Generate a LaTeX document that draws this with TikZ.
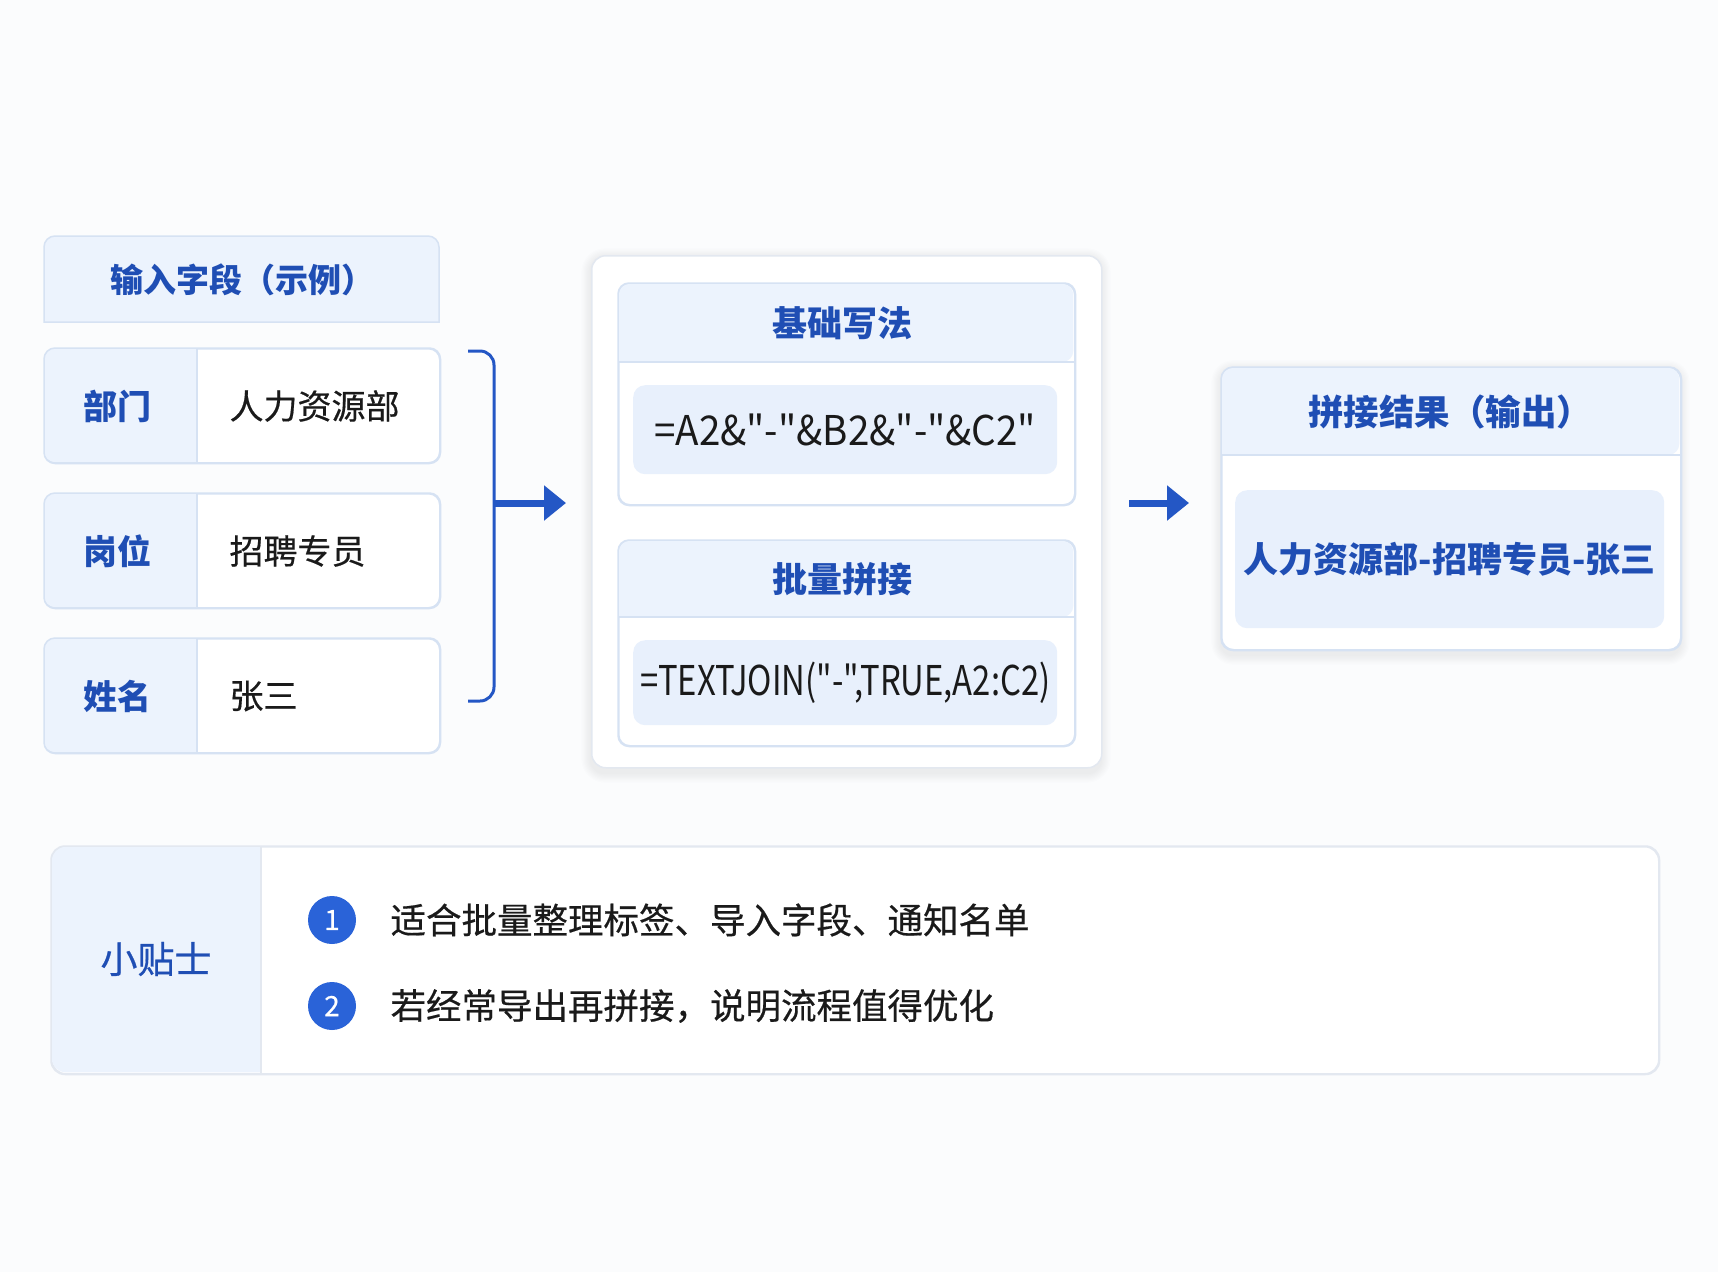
\documentclass[tikz,border=0pt]{standalone}
\usepackage{fontspec}
\setmainfont{Noto Sans CJK SC}
\newfontfamily\medfont[FakeBold=0.5]{Noto Sans CJK SC}
\newfontfamily\codefont[Ligatures=NoCommon]{Noto Sans CJK SC}
\usetikzlibrary{arrows.meta}
\definecolor{bg}{HTML}{FBFCFD}
\definecolor{bord}{HTML}{D6E2F3}
\definecolor{bordg}{HTML}{E3E8F0}
\definecolor{hfill}{HTML}{ECF3FD}
\definecolor{cfill}{HTML}{E8F0FC}
\definecolor{tblue}{HTML}{1F4EB4}
\definecolor{ablue}{HTML}{2457C5}
\definecolor{cblue}{HTML}{2A63D8}
\definecolor{tblack}{HTML}{1A1A1A}
\definecolor{shad}{HTML}{5A6A8A}
\newcommand{\fs}[1]{\fontsize{#1}{#1}\selectfont}
\newcommand{\qt}{\symbol{34}}
\newcommand{\softshadow}[5]{% x1,y1,x2,y2,radius
  \foreach \k in {1,...,8}{
    \fill[shad, opacity=0.012, rounded corners=#5+\k*1.2pt]
      (#1-\k*1.2, #2+3-\k*1.2) rectangle (#3+\k*1.2, #4+6+\k*1.2);
  }}
\tikzset{
  box/.style={draw=bord, line width=1.5pt, fill=white, rounded corners=11pt, anchor=north west, inner sep=0pt},
  outerbox/.style={draw=bordg, line width=1.5pt, fill=white, rounded corners=14pt, anchor=north west, inner sep=0pt},
  codebox/.style={fill=cfill, rounded corners=12pt, anchor=north west, inner sep=0pt},
  htext/.style={text=tblue, font=\bfseries\fs{33}},
  ltext/.style={text=tblue, font=\bfseries\fs{34}},
  vtext/.style={text=tblack, font=\medfont\fs{34}, anchor=west},
  ctext/.style={text=tblack, font=\codefont\fs{41}},
  ttext/.style={text=tblack, font=\medfont\fs{35.5}, anchor=west},
  numc/.style={circle, fill=cblue, minimum size=48pt, inner sep=0pt, text=white, font=\medfont\fs{28}},
  flowarrow/.style={draw=ablue, line width=7pt, -{Triangle[length=22pt,width=34pt]}},
  bracket/.style={draw=ablue, line width=3pt, rounded corners=14pt},
}
\begin{document}
\begin{tikzpicture}[x=1pt,y=-1pt]
\fill[bg] (0,0) rectangle (1718,1272);
\useasboundingbox (0,0) rectangle (1718,1272);

% ---- left column ----
\node[box, draw=none, fill=none, minimum width=395pt, minimum height=86pt] (inhead) at (44,236) {};
\filldraw[fill=hfill, draw=bord, line width=1.5pt] (44,322) [rounded corners=11pt] -- (44,236) -- (439,236) [sharp corners] -- (439,322) -- cycle;
\node[htext] (inheadt) at (inhead.center) {输入字段（示例）};

\foreach \nm/\y/\lab/\val in {r1/348/部门/人力资源部, r2/493/岗位/招聘专员, r3/638/姓名/张三}{
  \node[box, minimum width=395pt, minimum height=114pt] (\nm) at (44,\y) {};
  \fill[hfill] (197,\y) [rounded corners=11pt] -- (44,\y) -- (44,\y+114) [sharp corners] -- (197,\y+114) -- cycle;
  \draw[bord, line width=1.5pt] (197,\y) -- (197,\y+114);
  \draw[bord, line width=1.5pt, rounded corners=11pt] (\nm.north west) rectangle (\nm.south east);
  \node[ltext] (\nm l) at (117,\y+58) {\lab};
  \node[vtext] (\nm v) at (226,\y+58) {\val};
}

\coordinate (bt) at (468,351);
\coordinate (bb) at (468,701);
\draw[bracket] (bt) -- (494,351) -- (494,701) -- (bb);
\coordinate (a1s) at (494,503);
\coordinate (a1e) at (566,503);
\draw[flowarrow] (a1s) -- (a1e);

% ---- middle ----
\softshadow{591}{255}{1101}{767}{14pt}
\node[outerbox, minimum width=510pt, minimum height=512pt] (mid) at (591,255) {};

\node[box, minimum width=456pt, minimum height=221pt] (m1) at (618,283) {};
\fill[hfill, rounded corners=11pt] (618.75,362) -- (618.75,283.75) -- (1073.25,283.75) -- (1073.25,362) [sharp corners] -- cycle;
\draw[bord, line width=1.5pt] (618,362) -- (1074,362);
\draw[bord, line width=1.5pt, rounded corners=11pt] (m1.north west) rectangle (m1.south east);
\node[htext, font=\bfseries\fs{35}] (m1t) at (842,323) {基础写法};
\node[codebox, minimum width=424pt, minimum height=89pt] (c1) at (633,385) {};
\node[ctext] (c1t) at (c1.center) {\scalebox{0.94}[1]{=A2\&\qt-\qt\&B2\&\qt-\qt\&C2\qt}};

\node[box, minimum width=456pt, minimum height=205pt] (m2) at (618,540) {};
\fill[hfill, rounded corners=11pt] (618.75,617) -- (618.75,540.75) -- (1073.25,540.75) -- (1073.25,617) [sharp corners] -- cycle;
\draw[bord, line width=1.5pt] (618,617) -- (1074,617);
\draw[bord, line width=1.5pt, rounded corners=11pt] (m2.north west) rectangle (m2.south east);
\node[htext, font=\bfseries\fs{35}] (m2t) at (842,579) {批量拼接};
\node[codebox, minimum width=424pt, minimum height=85pt] (c2) at (633,640) {};
\node[ctext] (c2t) at (c2.center) {\scalebox{0.8}[1]{=TEXTJOIN(\qt-\qt,TRUE,A2:C2)}};

\coordinate (a2s) at (1129,503);
\coordinate (a2e) at (1189,503);
\draw[flowarrow] (a2s) -- (a2e);

% ---- right ----
\softshadow{1221}{367}{1680}{649}{12pt}
\node[outerbox, draw=bord, rounded corners=12pt, minimum width=459pt, minimum height=282pt] (res) at (1221,367) {};
\fill[hfill, rounded corners=11pt] (1221.75,455) -- (1221.75,367.75) -- (1679.25,367.75) -- (1679.25,455) [sharp corners] -- cycle;
\draw[bord, line width=1.5pt] (1221,455) -- (1680,455);
\draw[bord, line width=1.5pt, rounded corners=12pt] (res.north west) rectangle (res.south east);
\node[htext, font=\bfseries\fs{35.5}] (rest) at (1450,412) {拼接结果（输出）};
\node[codebox, minimum width=429pt, minimum height=138pt] (resin) at (1235,490) {};
\node[text=tblue, font=\bfseries\fs{35}] (resv) at (resin.center) {人力资源部-招聘专员-张三};

% ---- tips ----
\node[box, draw=bordg, rounded corners=14pt, minimum width=1607pt, minimum height=227pt] (tips) at (51,846) {};
\fill[hfill] (261,846.75) [rounded corners=14pt] -- (51.75,846.75) -- (51.75,1072.25) [sharp corners] -- (261,1072.25) -- cycle;
\draw[bordg, line width=1.5pt] (261,846) -- (261,1073);
\draw[bordg, line width=1.5pt, rounded corners=14pt] (tips.north west) rectangle (tips.south east);
\node[text=tblue, font=\medfont\fs{37}] (tipl) at (156,959) {小贴士};
\node[numc] (n1) at (332,920) {1};
\node[numc] (n2) at (332,1006) {2};
\node[ttext] (t1) at (387,920) {适合批量整理标签、导入字段、通知名单};
\node[ttext] (t2) at (387,1006) {若经常导出再拼接，说明流程值得优化};
\end{tikzpicture}
\end{document}
